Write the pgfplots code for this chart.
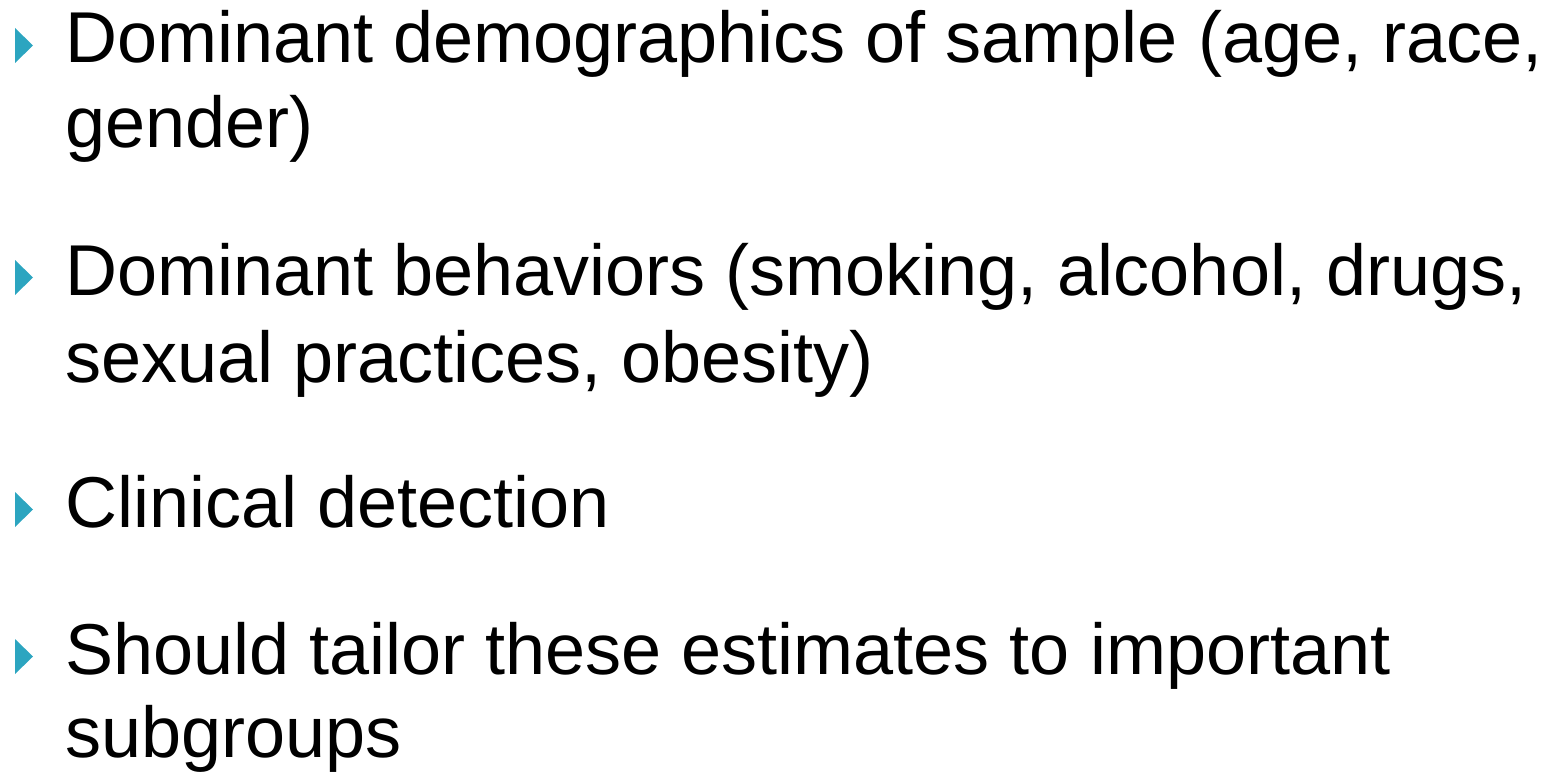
\documentclass[border=0pt]{standalone}
\usepackage{pgfplots}
\pgfplotsset{compat=1.18}
\usepackage{fontspec}
\setmainfont{Liberation Sans}
\definecolor{bulletblue}{RGB}{44,165,192}
\begin{document}
\begin{tikzpicture}
\begin{axis}[
  scale only axis, width=1549bp, height=775bp,
  xmin=0, xmax=1549, ymin=0, ymax=775, y dir=reverse,
  hide axis, clip=false,
]
\path (rel axis cs:0,0) rectangle (rel axis cs:1,1);
% bullets (triangles pointing right)
\addplot[fill=bulletblue, draw=none] coordinates {(15,28) (33,45.5) (15,63)} -- cycle;
\addplot[fill=bulletblue, draw=none] coordinates {(15,260) (33,277.5) (15,295)} -- cycle;
\addplot[fill=bulletblue, draw=none] coordinates {(15,492) (33,509.5) (15,527)} -- cycle;
\addplot[fill=bulletblue, draw=none] coordinates {(15,639) (33,656.5) (15,674)} -- cycle;
\tikzset{every node/.style={anchor=base west, inner sep=0pt, font=\fontsize{72.3pt}{86pt}\selectfont}}
\node at (axis cs:65,63) {Dominant demographics of sample (age, race,};
\node at (axis cs:65,147) {gender)};
\node at (axis cs:65,295) {Dominant behaviors (smoking, alcohol, drugs,};
\node at (axis cs:65,382) {sexual practices, obesity)};
\node at (axis cs:65,527) {Clinical detection};
\node at (axis cs:65,674) {Should tailor these estimates to important};
\node at (axis cs:65,757) {subgroups};
\end{axis}
\end{tikzpicture}
\end{document}
